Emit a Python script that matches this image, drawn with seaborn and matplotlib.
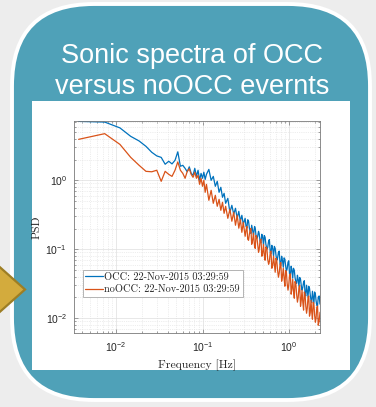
import numpy as np
import pandas as pd
import matplotlib
matplotlib.use("Agg")
import matplotlib.pyplot as plt
import matplotlib.ticker as mticker
import seaborn as sns
from matplotlib.patches import FancyBboxPatch, Rectangle, Polygon

# ---------------- data ----------------
freq_hz = [0.0037, 0.0074, 0.0111, 0.0148, 0.0185, 0.0222, 0.0259, 0.0296, 0.0333, 0.0370,
           0.0407, 0.0444, 0.0481, 0.0518, 0.0555, 0.0592, 0.0629, 0.0666, 0.0703, 0.0740,
           0.0777, 0.0814, 0.0851, 0.0888, 0.0925, 0.0962, 0.0999, 0.1036, 0.1073, 0.1110,
           0.1184, 0.1258, 0.1332, 0.1406, 0.1480, 0.1554, 0.1628, 0.1702, 0.1776, 0.1850,
           0.1961, 0.2072, 0.2183, 0.2294, 0.2405, 0.2516, 0.2627, 0.2738, 0.2849, 0.2960,
           0.3108, 0.3182, 0.3256, 0.3330, 0.3404, 0.3478, 0.3552, 0.3626, 0.3700, 0.3774,
           0.3885, 0.3996, 0.4070, 0.4144, 0.4255, 0.4329, 0.4440, 0.4514, 0.4625, 0.4736,
           0.4847, 0.4958, 0.5069, 0.5180, 0.5291, 0.5402, 0.5550, 0.5661, 0.5809, 0.5920,
           0.6068, 0.6179, 0.6327, 0.6475, 0.6623, 0.6771, 0.6919, 0.7067, 0.7215, 0.7363,
           0.7548, 0.7696, 0.7881, 0.8029, 0.8214, 0.8399, 0.8584, 0.8769, 0.8954, 0.9139,
           0.9324, 0.9509, 0.9731, 0.9916, 1.0138, 1.0360, 1.0582, 1.0804, 1.1026, 1.1248,
           1.1507, 1.1729, 1.1988, 1.2247, 1.2506, 1.2765, 1.3024, 1.3283, 1.3579, 1.3838,
           1.4134, 1.4430, 1.4726, 1.5022, 1.5318, 1.5614, 1.5947, 1.6243, 1.6576, 1.6909,
           1.7242, 1.7575, 1.7945, 1.8278, 1.8648, 1.9018, 1.9388, 1.9758, 2.0165, 2.0535,
           2.0942, 2.1349, 2.1756, 2.2274, 2.2792]

psd_occ = [7.16, 7.00, 5.76, 4.34, 3.72, 3.11, 2.55, 2.26, 2.15, 1.71,
           1.89, 1.73, 1.95, 2.59, 1.60, 1.65, 1.49, 1.33, 1.57, 1.26,
           1.18, 1.49, 1.14, 1.40, 1.00, 1.26, 1.07, 1.31, 1.03, 1.22,
           1.44, 1.00, 1.14, 0.819, 0.967, 0.670, 0.792, 0.567, 0.648, 0.464,
           0.548, 0.344, 0.434, 0.322, 0.393, 0.281, 0.355, 0.255, 0.311, 0.230,
           0.281, 0.215, 0.202, 0.268, 0.255, 0.205, 0.182, 0.170, 0.223, 0.196,
           0.160, 0.214, 0.202, 0.160, 0.144, 0.152, 0.182, 0.170, 0.131, 0.124,
           0.165, 0.150, 0.114, 0.158, 0.149, 0.118, 0.100, 0.106, 0.131, 0.138,
           0.0905, 0.086, 0.114, 0.102, 0.0792, 0.110, 0.103, 0.082, 0.0693, 0.074,
           0.0905, 0.094, 0.0606, 0.058, 0.0792, 0.069, 0.0548, 0.075, 0.0716, 0.057,
           0.0480, 0.052, 0.0648, 0.068, 0.0434, 0.042, 0.0567, 0.049, 0.0380, 0.053,
           0.0496, 0.039, 0.0332, 0.032, 0.0420, 0.036, 0.0291, 0.039, 0.0367, 0.030,
           0.0255, 0.028, 0.0332, 0.035, 0.0223, 0.021, 0.0301, 0.025, 0.0202, 0.029,
           0.0272, 0.022, 0.0182, 0.017, 0.0246, 0.020, 0.0165, 0.024, 0.0223, 0.018,
           0.0154, 0.015, 0.0202, 0.021, 0.0160]

psd_noocc = [3.93, 4.75, 3.32, 2.15, 1.65, 1.35, 1.33, 1.40, 0.967, 1.35,
             1.22, 1.14, 1.40, 1.85, 1.40, 1.26, 1.07, 1.35, 1.47, 1.22,
             1.105, 1.31, 1.07, 1.18, 0.875, 1.07, 0.819, 1.00, 0.670, 0.875,
             0.513, 0.716, 0.464, 0.606, 0.420, 0.530, 0.367, 0.480, 0.332, 0.420,
             0.281, 0.380, 0.255, 0.344, 0.223, 0.311, 0.202, 0.272, 0.176, 0.246,
             0.154, 0.190, 0.215, 0.140, 0.135, 0.165, 0.189, 0.200, 0.118, 0.128,
             0.171, 0.110, 0.103, 0.158, 0.149, 0.120, 0.0905, 0.098, 0.135, 0.140,
             0.0792, 0.088, 0.118, 0.082, 0.0693, 0.108, 0.103, 0.072, 0.0606, 0.066,
             0.0905, 0.094, 0.0530, 0.058, 0.0792, 0.060, 0.0464, 0.074, 0.0693, 0.050,
             0.0393, 0.045, 0.0606, 0.064, 0.0344, 0.041, 0.0530, 0.038, 0.0291, 0.049,
             0.0464, 0.032, 0.0255, 0.030, 0.0420, 0.044, 0.0223, 0.027, 0.0367, 0.025,
             0.0195, 0.034, 0.0322, 0.022, 0.0171, 0.020, 0.0281, 0.030, 0.0149, 0.018,
             0.0255, 0.017, 0.0131, 0.024, 0.0223, 0.015, 0.0118, 0.014, 0.0202, 0.021,
             0.0107, 0.012, 0.0182, 0.0125, 0.00967, 0.0170, 0.0160, 0.0110, 0.00875, 0.0100,
             0.0144, 0.0150, 0.00792, 0.0090, 0.0122]

series_labels = ["OCC: 22-Nov-2015 03:29:59", "noOCC: 22-Nov-2015 03:29:59"]
title_lines = ["Sonic spectra of OCC", "versus noOCC evernts"]
x_label = "Frequency [Hz]"
y_label = "PSD"
x_ticks = [0.01, 0.1, 1.0]
y_ticks = [0.01, 0.1, 1.0]

# ---------------- style ----------------
sns.set_theme(style="white")
plt.rcParams['font.family'] = ['Liberation Sans', 'DejaVu Sans']
plt.rcParams['axes.formatter.use_mathtext'] = True

W, H = 376, 407
fig = plt.figure(figsize=(W / 100, H / 100), dpi=100, facecolor='#ededed')

# background decoration (slide look)
bg = fig.add_axes([0, 0, 1, 1])
bg.set_xlim(0, W)
bg.set_ylim(H, 0)
bg.axis('off')
bg.add_patch(FancyBboxPatch((12, 4), 358, 396,
                            boxstyle="round,pad=0,rounding_size=82",
                            fc='#4fa1b8', ec='white', lw=2.8, zorder=1))
bg.add_patch(Rectangle((32, 101), 318, 269, fc='white', ec='none', zorder=2))
bg.add_patch(Polygon([(-30, 240.6), (25, 289.5), (-30, 338.4)], closed=True,
                     fc='#d3ab3d', ec='#9d7e24', lw=1.6, zorder=3))
bg.text(192, 63, title_lines[0], ha='center', va='baseline', color='white',
        fontsize=19.5, family=['Liberation Sans', 'DejaVu Sans'], zorder=4)
bg.text(192, 94, title_lines[1], ha='center', va='baseline', color='white',
        fontsize=19.5, family=['Liberation Sans', 'DejaVu Sans'], zorder=4)

# ---------------- the chart ----------------
ax = fig.add_axes([74 / W, 1 - 333 / H, 246 / W, 212 / H])
ax.set_facecolor('white')
n = len(freq_hz)
df = pd.DataFrame({
    'Frequency': freq_hz + freq_hz,
    'PSD': psd_occ + psd_noocc,
    'series': [series_labels[0]] * n + [series_labels[1]] * n,
})
ax.set_xscale('log')
ax.set_yscale('log')
sns.lineplot(data=df, x='Frequency', y='PSD', hue='series', hue_order=series_labels,
             palette=['#0072BD', '#D95319'], estimator=None, sort=False,
             lw=0.9, ax=ax, legend=True)

ax.set_xlim(0.00327, 2.28)
ax.set_ylim(0.0061, 7.25)
ax.set_xticks(x_ticks)
ax.set_yticks(y_ticks)
ax.xaxis.set_major_formatter(mticker.LogFormatterSciNotation())
ax.yaxis.set_major_formatter(mticker.LogFormatterSciNotation())
ax.xaxis.set_minor_locator(mticker.LogLocator(base=10, subs=np.arange(2, 10) * 1.0, numticks=20))
ax.yaxis.set_minor_locator(mticker.LogLocator(base=10, subs=np.arange(2, 10) * 1.0, numticks=20))
ax.xaxis.set_minor_formatter(mticker.NullFormatter())
ax.yaxis.set_minor_formatter(mticker.NullFormatter())

ax.grid(True, which='major', color='#dedede', lw=0.5, ls='-')
ax.grid(True, which='minor', color='#dedede', lw=0.5, ls=':')
ax.set_axisbelow(True)
for sp in ax.spines.values():
    sp.set_color('#7a7a7a')
    sp.set_linewidth(0.6)
ax.tick_params(which='both', direction='in', top=True, right=True, bottom=True, left=True,
               color='#7a7a7a', width=0.5)
ax.tick_params(which='major', length=3, labelsize=7.5, labelcolor='#262626', pad=5)
ax.tick_params(which='minor', length=1.6)

serif = ['cmr10', 'DejaVu Serif']
ax.set_xlabel(x_label, family=serif, fontsize=8.5, color='#262626', labelpad=4)
ax.set_ylabel(y_label, family=serif, fontsize=8.5, color='#262626', labelpad=3)

handles, labels = ax.get_legend_handles_labels()
pairs = [(h, l) for h, l in zip(handles, labels) if l in series_labels]
leg = ax.legend([p[0] for p in pairs], [p[1] for p in pairs],
                loc='lower left', bbox_to_anchor=(0.036, 0.17), borderaxespad=0,
                prop={'family': serif, 'size': 7.4}, frameon=True, fancybox=False,
                framealpha=1, edgecolor='#a8a8a8', handlelength=1.7, handletextpad=0.15,
                borderpad=0.25, labelspacing=0.3)
leg.get_frame().set_linewidth(0.6)
for t in leg.get_texts():
    t.set_color('#262626')

fig.savefig('out.png', dpi=100, facecolor=fig.get_facecolor())
